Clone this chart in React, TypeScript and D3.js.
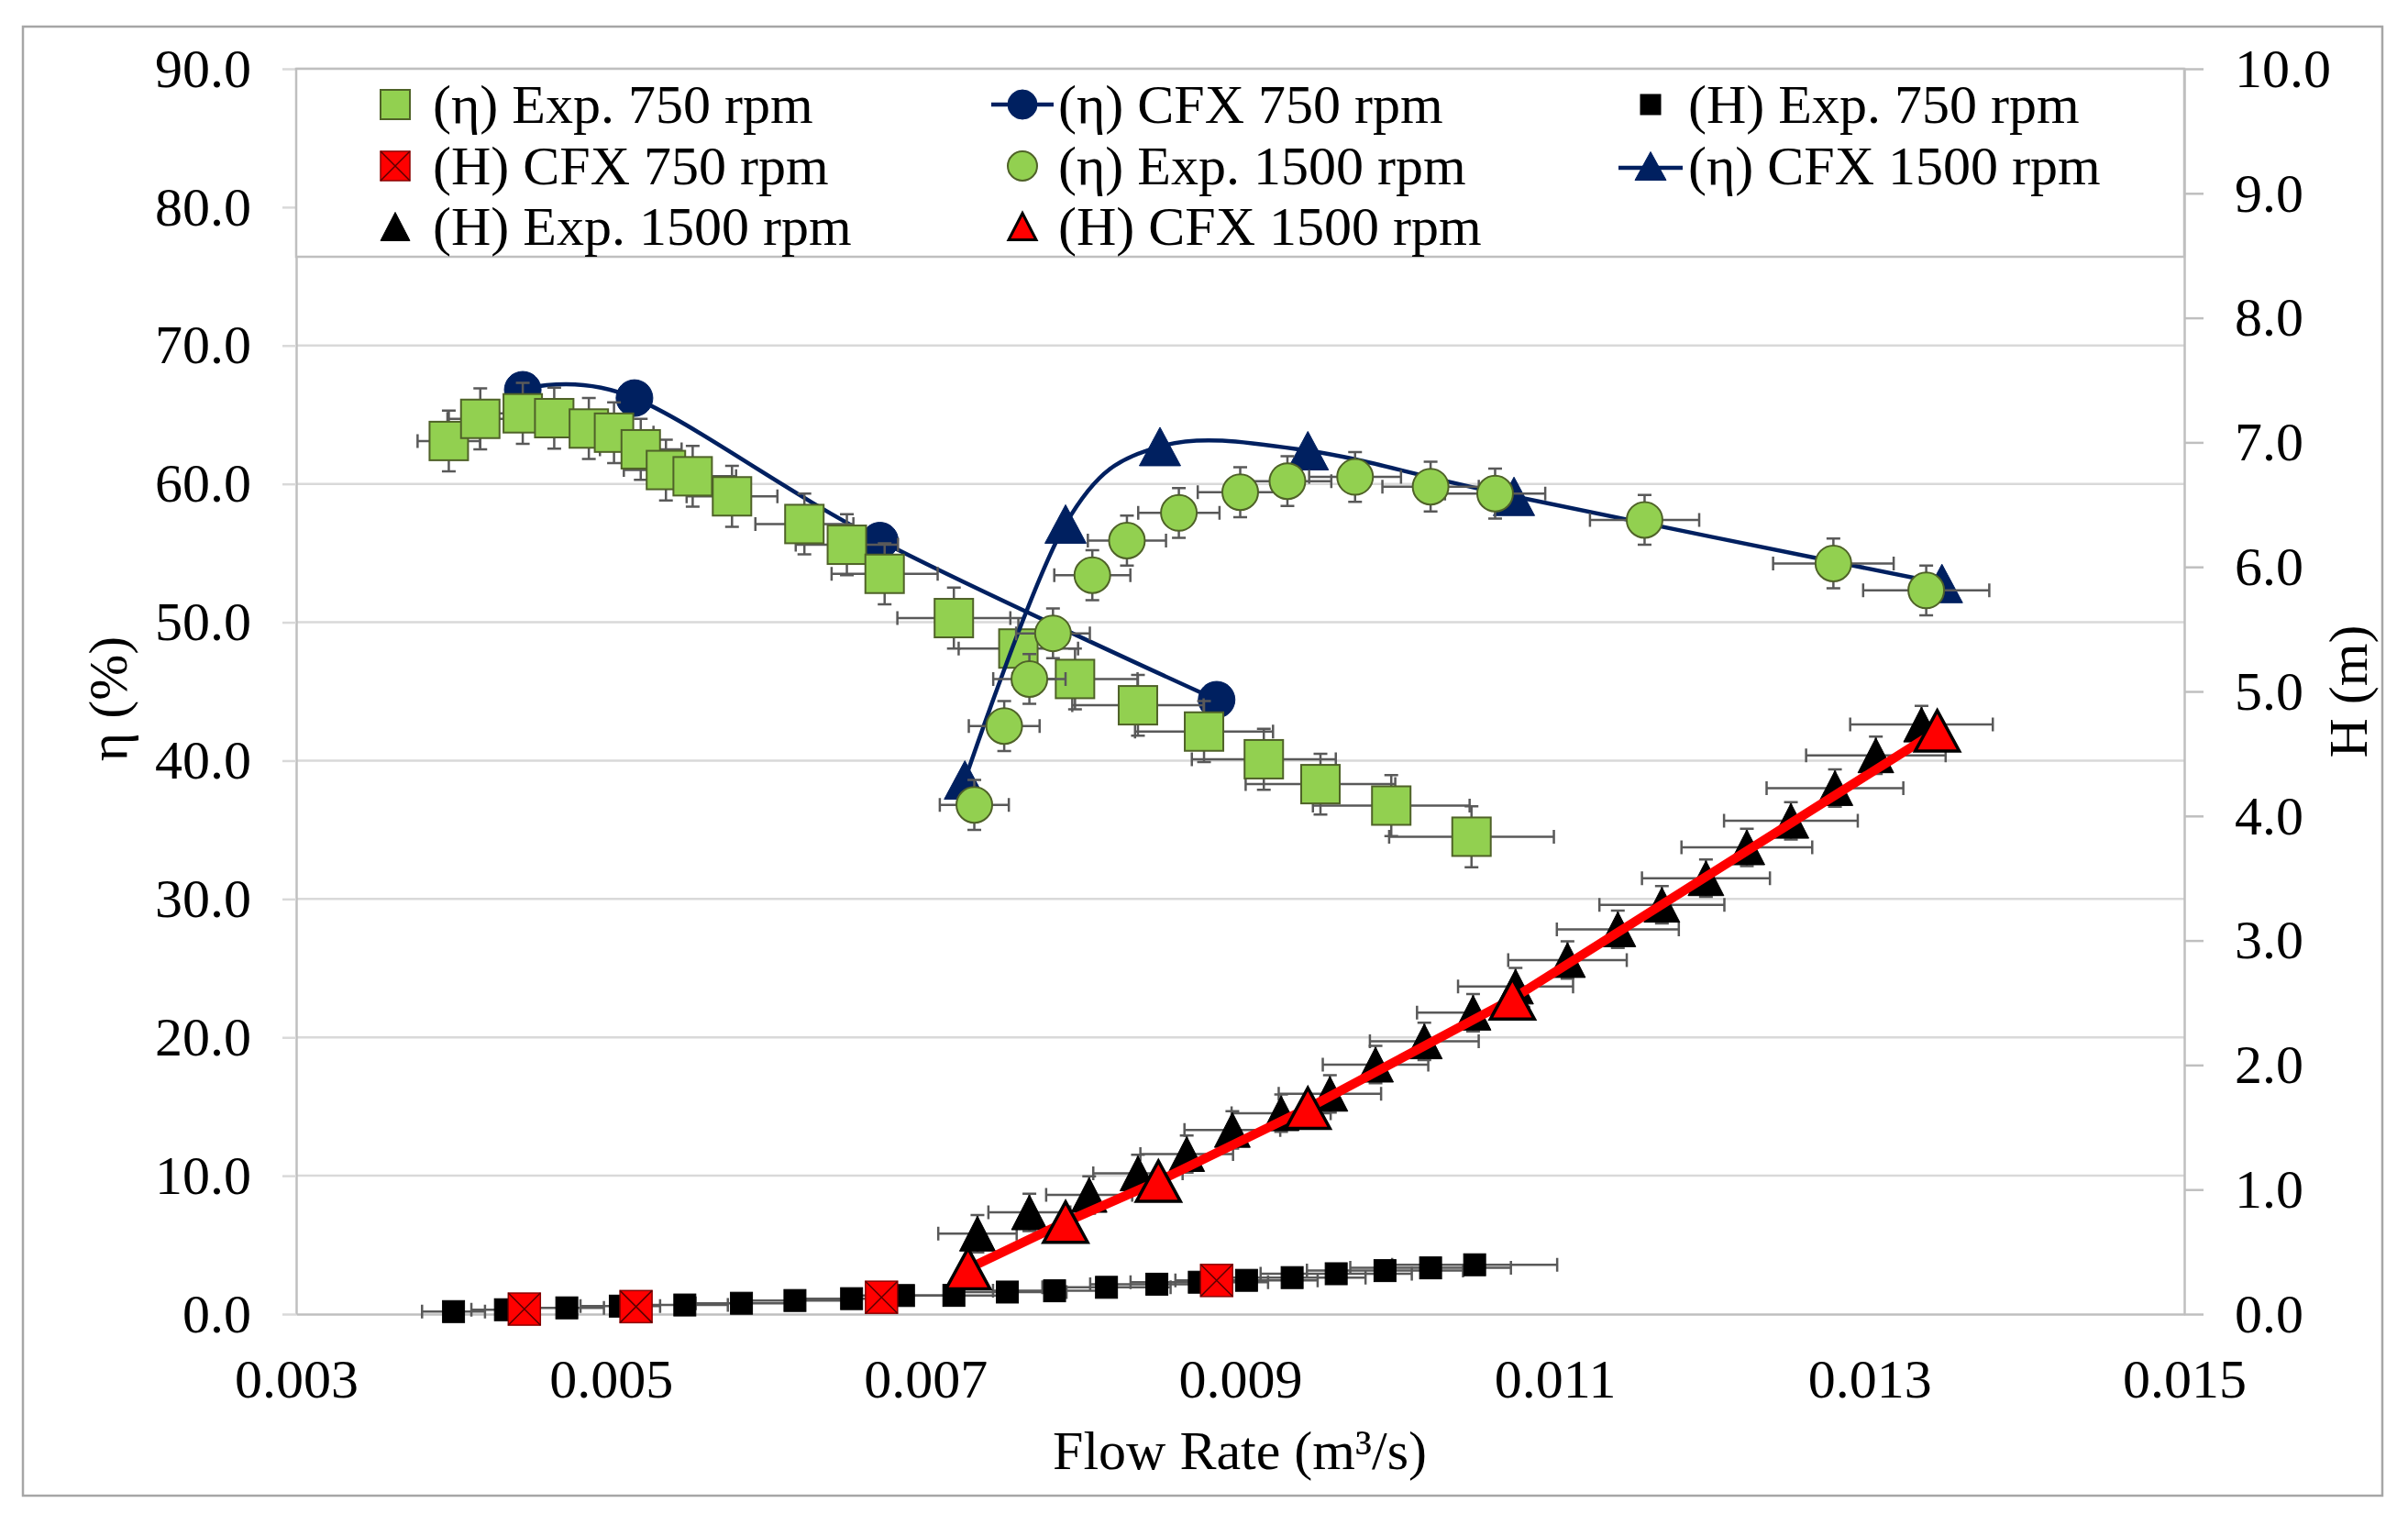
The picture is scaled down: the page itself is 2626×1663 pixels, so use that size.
import React, { useRef, useEffect } from 'react'
import * as d3 from 'd3'

// Flow rate (m3/s) and values
const qEtaExp750 = [0.00397, 0.00417, 0.00444, 0.00464, 0.00486, 0.00502, 0.00519, 0.00535, 0.00552, 0.00577, 0.00623, 0.0065, 0.00674, 0.00718, 0.00759, 0.00795, 0.00835, 0.00877, 0.00915, 0.00951, 0.00996, 0.01047]
const etaExp750 = [63.1, 64.7, 65.1, 64.75, 64.0, 63.7, 62.5, 61.0, 60.55, 59.1, 57.1, 55.6, 53.5, 50.3, 48.1, 45.9, 44.0, 42.1, 40.1, 38.3, 36.75, 34.5]

const qEtaCfx750 = [0.00444, 0.00515, 0.00671, 0.00885]
const etaCfx750 = [66.8, 66.2, 55.9, 44.4]

const qHExp750 = [0.004, 0.00433, 0.00472, 0.00506, 0.00547, 0.00583, 0.00617, 0.00653, 0.00686, 0.00718, 0.00752, 0.00782, 0.00815, 0.00847, 0.00874, 0.00904, 0.00933, 0.00961, 0.00992, 0.01021, 0.01049]
const hExp750 = [0.02, 0.035, 0.05, 0.064, 0.073, 0.087, 0.109, 0.124, 0.149, 0.15, 0.177, 0.187, 0.215, 0.24, 0.256, 0.271, 0.293, 0.324, 0.349, 0.371, 0.396]

const qHCfx750 = [0.00445, 0.00516, 0.00672, 0.00885]
const hCfx750 = [0.04, 0.06, 0.135, 0.27]

const qEtaExp1500 = [0.00731, 0.0075, 0.00766, 0.00781, 0.00806, 0.00828, 0.00861, 0.009, 0.0093, 0.00973, 0.01021, 0.01062, 0.01157, 0.01277, 0.01336]
const etaExp1500 = [36.8, 42.5, 45.9, 49.2, 53.4, 55.9, 57.9, 59.4, 60.2, 60.5, 59.8, 59.3, 57.4, 54.25, 52.3]

const qEtaCfx1500 = [0.00725, 0.00789, 0.00849, 0.00943, 0.01074, 0.01346]
const etaCfx1500 = [38.6, 57.1, 62.7, 62.4, 59.1, 52.8]

const qHExp1500 = [0.00733, 0.00766, 0.00804, 0.00835, 0.00866, 0.00895, 0.00926, 0.00957, 0.00986, 0.01017, 0.01048, 0.01075, 0.01108, 0.0114, 0.01168, 0.01196, 0.01222, 0.0125, 0.01278, 0.01304, 0.01333]
const hExp1500 = [0.646, 0.817, 0.957, 1.13, 1.285, 1.479, 1.613, 1.769, 2.003, 2.19, 2.42, 2.63, 2.843, 3.09, 3.287, 3.5, 3.748, 3.961, 4.224, 4.487, 4.734]

const qHCfx1500 = [0.00727, 0.00789, 0.00848, 0.00943, 0.01073, 0.01343]
const hCfx1500 = [0.365, 0.739, 1.067, 1.653, 2.531, 4.684]

// Axis ticks
const xTicks = [0.003, 0.005, 0.007, 0.009, 0.011, 0.013, 0.015]
const etaTicks = [0, 10, 20, 30, 40, 50, 60, 70, 80, 90]
const hTicks = [0, 1, 2, 3, 4, 5, 6, 7, 8, 9, 10]

const legendLabels = [
  '(η) Exp. 750 rpm',
  '(η) CFX 750 rpm',
  '(H) Exp. 750 rpm',
  '(H) CFX 750 rpm',
  '(η) Exp. 1500 rpm',
  '(η) CFX 1500 rpm',
  '(H) Exp. 1500 rpm',
  '(H) CFX 1500 rpm',
]

const W = 2626
const H = 1663
const font = '"Liberation Serif", "Times New Roman", serif'
const navy = '#002060'
const green = '#92D050'
const greenStroke = '#4F6228'
const errColor = '#595959'
const gridColor = '#D9D9D9'
const axisColor = '#BFBFBF'

type Sel = d3.Selection<SVGGElement, unknown, null, undefined>

const App: React.FC = () => {
  const svgRef = useRef<SVGSVGElement>(null)

  useEffect(() => {
    if (!svgRef.current) return
    const svg = d3.select(svgRef.current)
    svg.selectAll('*').remove()

    const left = 323
    const right = 2382
    const top = 75
    const bottom = 1433

    const x = d3.scaleLinear().domain([0.003, 0.015]).range([left, right])
    const yL = d3.scaleLinear().domain([0, 90]).range([bottom, top])
    const yR = d3.scaleLinear().domain([0, 10]).range([bottom, top])

    // outer frame
    svg
      .append('rect')
      .attr('x', 25)
      .attr('y', 29)
      .attr('width', 2573)
      .attr('height', 1602)
      .attr('fill', '#fff')
      .attr('stroke', '#A6A6A6')
      .attr('stroke-width', 2.5)

    // gridlines
    svg
      .append('g')
      .selectAll('line')
      .data(etaTicks.filter(d => d > 0))
      .enter()
      .append('line')
      .attr('x1', left)
      .attr('x2', right)
      .attr('y1', d => yL(d))
      .attr('y2', d => yL(d))
      .attr('stroke', gridColor)
      .attr('stroke-width', 2.5)

    const styleAxis = (g: Sel, tickColor: string) => {
      g.select('.domain').attr('stroke', axisColor).attr('stroke-width', 2.5)
      g.selectAll('.tick line').attr('stroke', tickColor).attr('stroke-width', 2.5)
      g.selectAll('.tick text')
        .attr('fill', '#000')
        .style('font-family', font)
        .style('font-size', '60px')
    }

    const axL = svg
      .append('g')
      .attr('transform', `translate(${left},0)`)
      .call(
        d3.axisLeft(yL).tickValues(etaTicks).tickFormat(d3.format('.1f')).tickSize(15).tickSizeOuter(0).tickPadding(34),
      )
    styleAxis(axL, gridColor)

    const axR = svg
      .append('g')
      .attr('transform', `translate(${right},0)`)
      .call(
        d3.axisRight(yR).tickValues(hTicks).tickFormat(d3.format('.1f')).tickSize(21).tickSizeOuter(0).tickPadding(34),
      )
    styleAxis(axR, axisColor)

    const axB = svg
      .append('g')
      .attr('transform', `translate(0,${bottom})`)
      .call(d3.axisBottom(x).tickValues(xTicks).tickFormat(d3.format('.3f')).tickSize(0).tickPadding(48))
    styleAxis(axB, axisColor)

    // axis titles
    svg
      .append('text')
      .attr('x', 1352)
      .attr('y', 1602)
      .attr('text-anchor', 'middle')
      .style('font-family', font)
      .style('font-size', '60px')
      .text('Flow Rate (m³/s)')

    svg
      .append('text')
      .attr('transform', 'translate(138,762) rotate(-90)')
      .attr('text-anchor', 'middle')
      .style('font-family', font)
      .style('font-size', '60px')
      .text('η (%)')

    svg
      .append('text')
      .attr('transform', 'translate(2581,754) rotate(-90)')
      .attr('text-anchor', 'middle')
      .style('font-family', font)
      .style('font-size', '60px')
      .text('H (m)')

    // marker shapes
    const square = (g: Sel, s: number, fill: string, stroke: string, sw: number) => {
      g.append('rect')
        .attr('x', -s / 2)
        .attr('y', -s / 2)
        .attr('width', s)
        .attr('height', s)
        .attr('fill', fill)
        .attr('stroke', stroke)
        .attr('stroke-width', sw)
    }
    const squareX = (g: Sel, s: number) => {
      square(g, s, '#FF0000', '#8B0000', 1.5)
      g.append('path')
        .attr('d', `M${-s / 2},${-s / 2}L${s / 2},${s / 2}M${s / 2},${-s / 2}L${-s / 2},${s / 2}`)
        .attr('stroke', '#5A0000')
        .attr('stroke-width', 1.5)
    }
    const circle = (g: Sel, d: number, fill: string, stroke: string, sw: number) => {
      g.append('circle').attr('r', d / 2).attr('fill', fill).attr('stroke', stroke).attr('stroke-width', sw)
    }
    const triangle = (g: Sel, w: number, h: number, fill: string, stroke: string, sw: number) => {
      g.append('path')
        .attr('d', `M0,${-h / 2}L${w / 2},${h / 2}L${-w / 2},${h / 2}Z`)
        .attr('fill', fill)
        .attr('stroke', stroke)
        .attr('stroke-width', sw)
        .attr('stroke-linejoin', 'miter')
    }

    const markers = (
      qs: number[],
      vs: number[],
      yScale: d3.ScaleLinear<number, number>,
      draw: (g: Sel) => void,
    ) => {
      const layer = svg.append('g')
      qs.forEach((q, i) => {
        const g = layer.append('g').attr('transform', `translate(${x(q)},${yScale(vs[i])})`) as unknown as Sel
        draw(g)
      })
    }

    const errorBars = (
      qs: number[],
      vs: number[],
      yScale: d3.ScaleLinear<number, number>,
      xFrac: number,
      yErr: number,
    ) => {
      const layer = svg.append('g').attr('stroke', errColor).attr('stroke-width', 2.5).attr('fill', 'none')
      const cap = 7.5
      qs.forEach((q, i) => {
        const cy = yScale(vs[i])
        const cx = x(q)
        const x0 = x(q * (1 - xFrac))
        const x1 = x(q * (1 + xFrac))
        layer
          .append('path')
          .attr('d', `M${x0},${cy}H${x1}M${x0},${cy - cap}V${cy + cap}M${x1},${cy - cap}V${cy + cap}`)
        if (yErr > 0) {
          const y0 = yScale(vs[i] + yErr)
          const y1 = yScale(vs[i] - yErr)
          layer
            .append('path')
            .attr('d', `M${cx},${y0}V${y1}M${cx - cap},${y0}H${cx + cap}M${cx - cap},${y1}H${cx + cap}`)
        }
      })
    }

    const smooth = (yScale: d3.ScaleLinear<number, number>) =>
      d3
        .line<[number, number]>()
        .x(d => x(d[0]))
        .y(d => yScale(d[1]))
        .curve(d3.curveCatmullRom.alpha(0))

    // (η) CFX 750 rpm
    svg
      .append('path')
      .attr('d', smooth(yL)(qEtaCfx750.map((q, i) => [q, etaCfx750[i]] as [number, number])) || '')
      .attr('fill', 'none')
      .attr('stroke', navy)
      .attr('stroke-width', 4.5)
    markers(qEtaCfx750, etaCfx750, yL, g => circle(g, 40, navy, navy, 1))

    // (η) Exp. 750 rpm
    errorBars(qEtaExp750, etaExp750, yL, 0.05, 2.2)
    markers(qEtaExp750, etaExp750, yL, g => square(g, 42, green, greenStroke, 2))

    // (H) Exp. 750 rpm
    errorBars(qHExp750, hExp750, yR, 0.05, 0)
    markers(qHExp750, hExp750, yR, g => square(g, 24, '#000', '#000', 1))

    // (H) CFX 750 rpm
    markers(qHCfx750, hCfx750, yR, g => squareX(g, 35))

    // (η) CFX 1500 rpm
    svg
      .append('path')
      .attr('d', smooth(yL)(qEtaCfx1500.map((q, i) => [q, etaCfx1500[i]] as [number, number])) || '')
      .attr('fill', 'none')
      .attr('stroke', navy)
      .attr('stroke-width', 4.5)
    markers(qEtaCfx1500, etaCfx1500, yL, g => triangle(g, 45, 42, navy, navy, 1))

    // (η) Exp. 1500 rpm
    errorBars(qEtaExp1500, etaExp1500, yL, 0.03, 1.8)
    markers(qEtaExp1500, etaExp1500, yL, g => circle(g, 39, green, greenStroke, 2))

    // (H) Exp. 1500 rpm
    errorBars(qHExp1500, hExp1500, yR, 0.034, 0.15)
    markers(qHExp1500, hExp1500, yR, g => triangle(g, 39, 38, '#000', '#000', 1))

    // (H) CFX 1500 rpm
    svg
      .append('path')
      .attr(
        'd',
        d3
          .line<[number, number]>()
          .x(d => x(d[0]))
          .y(d => yR(d[1]))(qHCfx1500.map((q, i) => [q, hCfx1500[i]] as [number, number])) || '',
      )
      .attr('fill', 'none')
      .attr('stroke', '#FF0000')
      .attr('stroke-width', 10)
    markers(qHCfx1500, hCfx1500, yR, g => triangle(g, 48, 44, '#FF0000', '#000', 3.5))

    // legend
    svg
      .append('rect')
      .attr('x', left)
      .attr('y', top)
      .attr('width', right - left)
      .attr('height', 205)
      .attr('fill', '#fff')
      .attr('stroke', axisColor)
      .attr('stroke-width', 2.5)

    const colMarker = [431, 1115, 1800]
    const colText = [472, 1154, 1841]
    const rowY = [114, 181, 247]

    const legendDraw: ((g: Sel) => void)[] = [
      g => square(g, 32, green, greenStroke, 2),
      g => {
        g.append('line').attr('x1', -34).attr('x2', 34).attr('stroke', navy).attr('stroke-width', 4.5)
        circle(g, 32, navy, navy, 1)
      },
      g => square(g, 22, '#000', '#000', 1),
      g => squareX(g, 32),
      g => circle(g, 32, green, greenStroke, 2),
      g => {
        g.append('line').attr('x1', -35).attr('x2', 35).attr('y1', 2).attr('y2', 2).attr('stroke', navy).attr('stroke-width', 4.5)
        triangle(g, 34, 31, navy, navy, 1)
      },
      g => triangle(g, 32, 31, '#000', '#000', 1),
      g => triangle(g, 30, 29, '#FF0000', '#000', 3),
    ]

    legendLabels.forEach((label, i) => {
      const col = i % 3
      const row = Math.floor(i / 3)
      const g = svg.append('g').attr('transform', `translate(${colMarker[col]},${rowY[row]})`) as unknown as Sel
      legendDraw[i](g)
      svg
        .append('text')
        .attr('x', colText[col])
        .attr('y', rowY[row] + 20)
        .style('font-family', font)
        .style('font-size', '60px')
        .attr('fill', '#000')
        .text(label)
    })
  }, [])

  return (
    <svg
      ref={svgRef}
      width={W}
      height={H}
      style={{ position: 'absolute', left: 0, top: 0, background: '#fff' }}
    />
  )
}

export default App
